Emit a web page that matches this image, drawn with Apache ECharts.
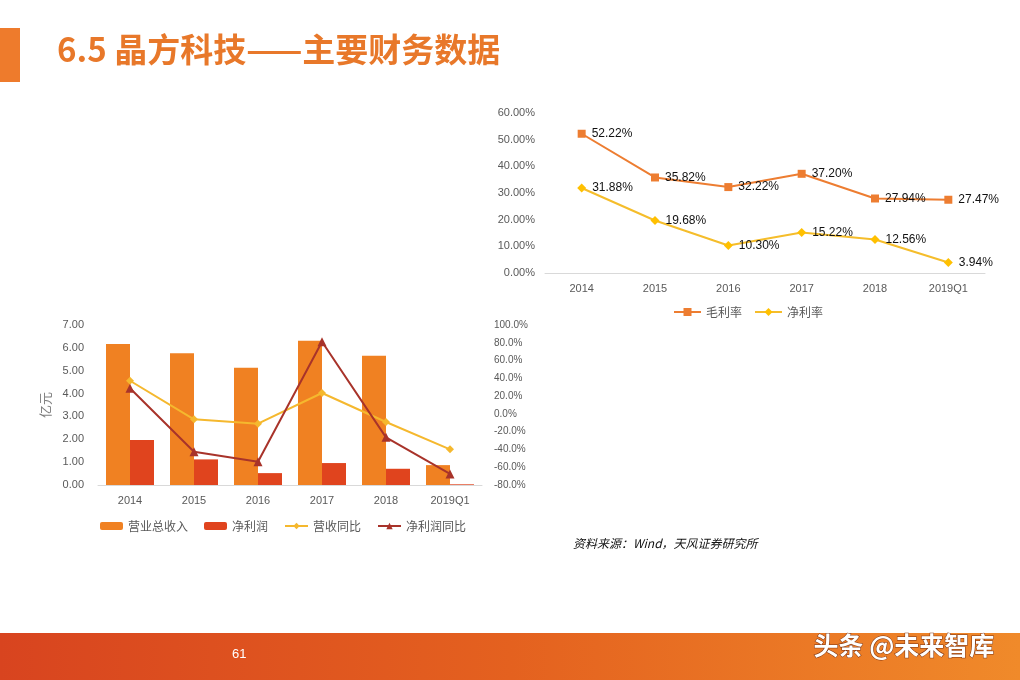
<!DOCTYPE html>
<html><head><meta charset="utf-8">
<script src="https://cdn.jsdelivr.net/npm/echarts@6/dist/echarts.min.js"></script>
<style>html,body{margin:0;padding:0;background:#fff}#c{width:1020px;height:680px}</style>
</head><body><div id="c"></div>
<script>
const years = ['2014','2015','2016','2017','2018','2019Q1'];
const grossMargin = [52.22, 35.82, 32.22, 37.20, 27.94, 27.47];
const netMargin = [31.88, 19.68, 10.30, 15.22, 12.56, 3.94];
const revenue = [6.17, 5.76, 5.13, 6.31, 5.66, 0.87];
const netProfit = [1.97, 1.12, 0.52, 0.96, 0.71, 0.03];
const revenueYoY = [37.3, -6.1, -11.0, 23.5, -9.1, -39.9];
const profitYoY = [28.8, -42.5, -53.8, 81.2, -26.4, -67.6];

const FONT = '"Liberation Sans","Noto Sans CJK SC",sans-serif';
const CJK = '"Noto Sans CJK SC",sans-serif';
const chart = echarts.init(document.getElementById('c'));
chart.setOption({
  animation: false,
  backgroundColor: '#fff',
  textStyle: {fontFamily: FONT},
  graphic: [
    {type:'rect', shape:{x:0,y:28,width:20,height:54}, style:{fill:'#EE7B2C'}},
    {type:'text', left:57, top:33, style:{text:'6.5 晶方科技——主要财务数据', fill:'#E8782A', font:'bold 33px "Noto Sans CJK SC",sans-serif'}},
    {type:'rect', shape:{x:0,y:633,width:1020,height:47}, style:{fill:new echarts.graphic.LinearGradient(0,0,1,0,[{offset:0,color:'#D8441F'},{offset:0.5,color:'#E4611F'},{offset:1,color:'#F08A2A'}])}},
    {type:'text', left:232, top:648, style:{text:'61', fill:'#fff', font:'13px "Liberation Sans",sans-serif'}},
    {type:'text', left:813, top:632, style:{text:'头条 @未来智库', fill:'#fff', font:'bold 25px "Noto Sans CJK SC",sans-serif', stroke:'#7a3010', lineWidth:1}},
    {type:'text', left:573, top:537, style:{text:'资料来源：Wind，天风证券研究所', fill:'#111', font:'italic 12px "Noto Sans CJK SC",sans-serif'}}
  ],
  legend: [
    {top:306, left:673, padding:0, itemWidth:27, itemHeight:10, itemGap:12, textStyle:{fontFamily:CJK, fontSize:12, color:'#595959'}, data:['毛利率','净利率']},
    {top:520, left:100, padding:0, itemWidth:23, itemHeight:8, itemGap:16, textStyle:{fontFamily:CJK, fontSize:12, color:'#595959'}, data:['营业总收入','净利润','营收同比','净利润同比']}
  ],
  grid: [
    {left:545, right:35, top:113, bottom:407},
    {left:98, right:538, top:325, bottom:195}
  ],
  xAxis: [
    {type:'category', gridIndex:0, data:years, axisLine:{lineStyle:{color:'#D9D9D9'}}, axisTick:{show:false}, axisLabel:{color:'#595959', fontSize:11, margin:10}},
    {type:'category', gridIndex:1, data:years, axisLine:{lineStyle:{color:'#D9D9D9'}}, axisTick:{show:false}, axisLabel:{color:'#595959', fontSize:11, margin:10}}
  ],
  yAxis: [
    {type:'value', gridIndex:0, min:0, max:60, interval:10, splitLine:{show:false}, axisLine:{show:false}, axisLabel:{color:'#595959', fontSize:11, margin:10, formatter:v=>v.toFixed(2)+'%'}},
    {type:'value', gridIndex:1, min:0, max:7, interval:1, splitLine:{show:false}, axisLine:{show:false}, axisLabel:{color:'#595959', fontSize:11, margin:14, formatter:v=>v.toFixed(2)},
      name:'亿元', nameLocation:'middle', nameGap:46, nameRotate:90, nameTextStyle:{color:'#7f7f7f', fontFamily:CJK, fontSize:13}},
    {type:'value', gridIndex:1, position:'right', min:-80, max:100, interval:20, splitLine:{show:false}, axisLine:{show:false}, axisLabel:{color:'#595959', fontSize:10, margin:12, formatter:v=>v.toFixed(1)+'%'}}
  ],
  series: [
    {name:'毛利率', type:'line', xAxisIndex:0, yAxisIndex:0, data:grossMargin, symbol:'rect', symbolSize:8, itemStyle:{color:'#ED7D31'}, lineStyle:{width:2, color:'#ED7D31'},
      label:{show:true, position:'right', distance:6, color:'#111', fontSize:12, formatter:p=>p.value.toFixed(2)+'%'}},
    {name:'净利率', type:'line', xAxisIndex:0, yAxisIndex:0, data:netMargin, symbol:'diamond', symbolSize:9, itemStyle:{color:'#FFC000'}, lineStyle:{width:2, color:'#F5BD2B'},
      label:{show:true, position:'right', distance:6, color:'#111', fontSize:12, formatter:p=>p.value.toFixed(2)+'%'}},
    {name:'营业总收入', type:'bar', xAxisIndex:1, yAxisIndex:1, data:revenue, barWidth:24, barGap:'0%', itemStyle:{color:'#F08122'}},
    {name:'净利润', type:'bar', xAxisIndex:1, yAxisIndex:1, data:netProfit, barWidth:24, barGap:'0%', itemStyle:{color:'#E0441E'}},
    {name:'营收同比', type:'line', xAxisIndex:1, yAxisIndex:2, data:revenueYoY, symbol:'diamond', symbolSize:8, itemStyle:{color:'#F5B82E'}, lineStyle:{width:2, color:'#F5B82E'}},
    {name:'净利润同比', type:'line', xAxisIndex:1, yAxisIndex:2, data:profitYoY, symbol:'triangle', symbolSize:9, itemStyle:{color:'#A8332A'}, lineStyle:{width:2, color:'#A8332A'}}
  ]
});
</script></body></html>
